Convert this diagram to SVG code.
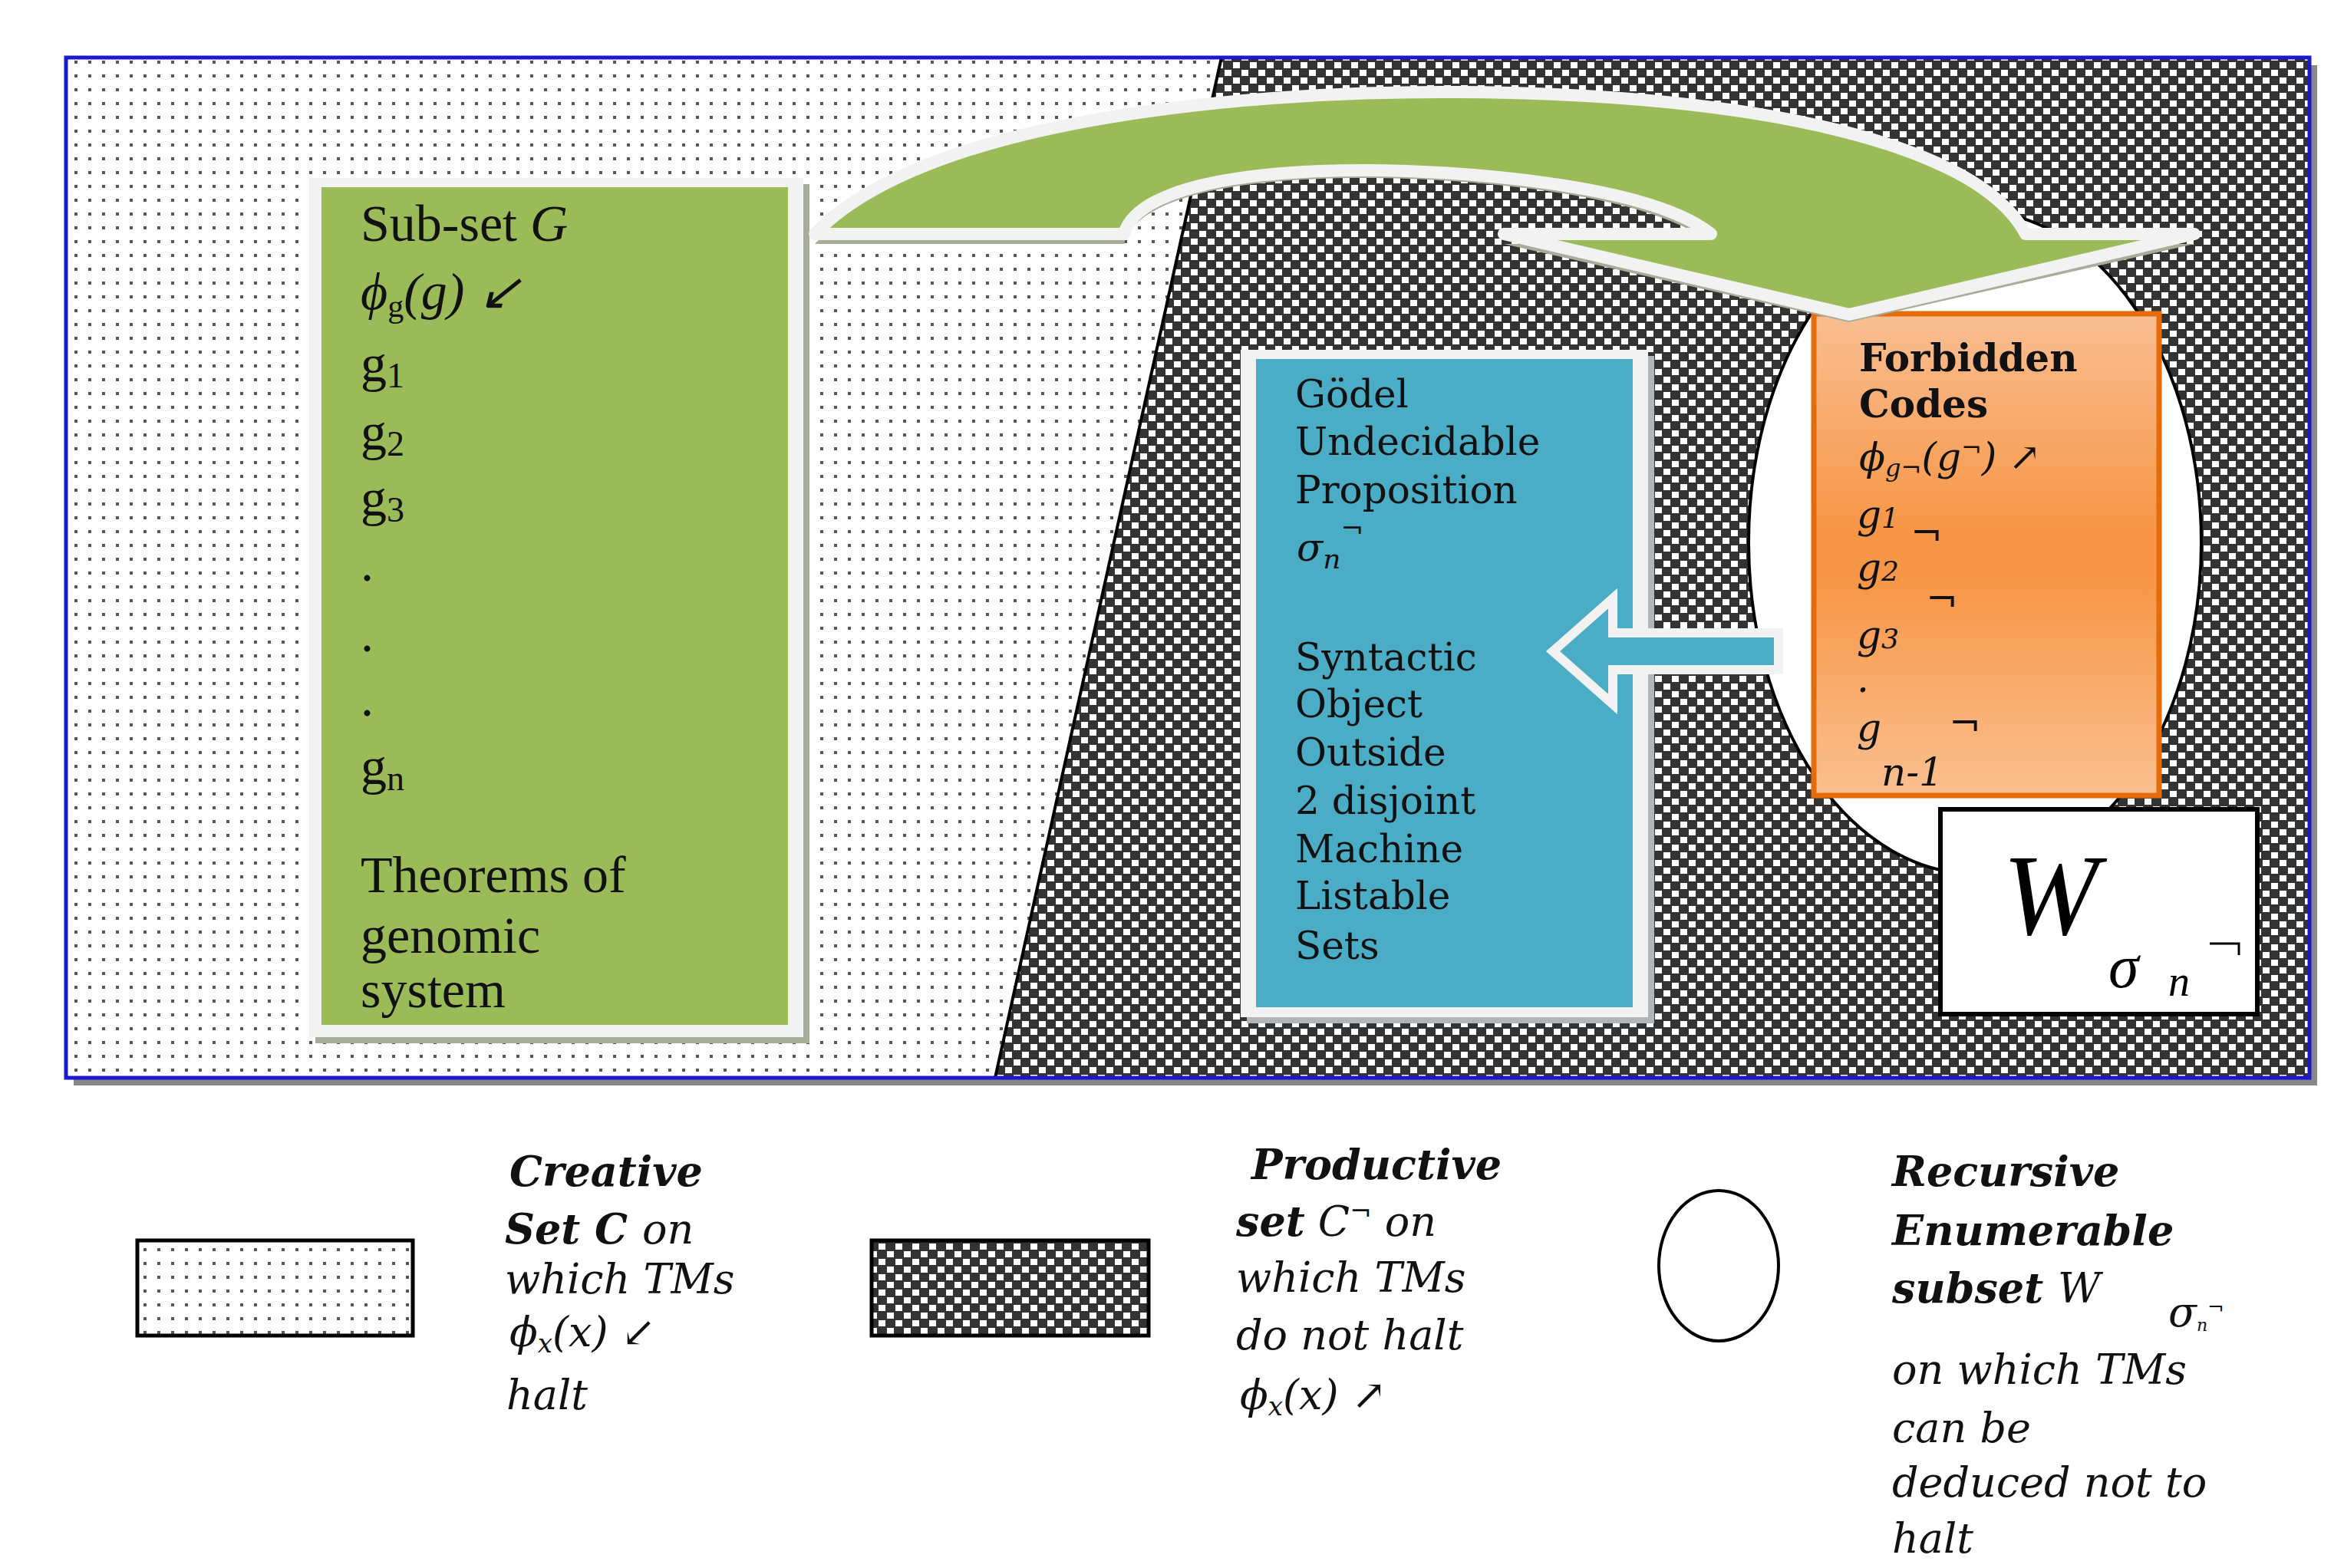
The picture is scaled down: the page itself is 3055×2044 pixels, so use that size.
<svg xmlns="http://www.w3.org/2000/svg" width="3055" height="2044" viewBox="0 0 3055 2044">
<defs>
<pattern id="dots" width="18" height="18" patternUnits="userSpaceOnUse"><rect width="18" height="18" fill="#fff"/><rect x="7" y="7" width="4" height="4" fill="#555"/></pattern>
<pattern id="chk" width="22" height="20" patternUnits="userSpaceOnUse"><rect width="22" height="20" fill="#333"/><rect x="1" y="1" width="9" height="8" fill="#fff"/><rect x="12" y="11" width="9" height="8" fill="#fff"/></pattern>
<linearGradient id="og" x1="0" y1="0" x2="0" y2="1"><stop offset="0" stop-color="#F9BE92"/><stop offset="0.45" stop-color="#F79646"/><stop offset="0.55" stop-color="#F79646"/><stop offset="1" stop-color="#FAC090"/></linearGradient>
<style>
.gt{font-family:"Liberation Serif",serif;font-size:68px;fill:#111}
.bt{font-family:"DejaVu Serif",serif;font-size:50px;fill:#111}
.ot{font-family:"DejaVu Serif",serif;font-size:50px;fill:#111;font-style:italic}
.lg{font-family:"DejaVu Serif",serif;font-size:54px;fill:#111;font-style:italic}
.b{font-weight:bold}
</style>
</defs>
<g id="background">
<rect x="96" y="85" width="2924" height="1330" fill="#888"/>
<rect x="86" y="75" width="2924" height="1330" fill="url(#dots)"/>
<polygon points="1592,75 3010,75 3010,1405 1297,1405" fill="url(#chk)"/>
<line x1="1592" y1="75" x2="1297" y2="1405" stroke="#000" stroke-width="4"/>
<rect x="86" y="75" width="2924" height="1330" fill="none" stroke="#1a1acc" stroke-width="5"/>
</g>
<g id="ellipse"><ellipse cx="2574" cy="707" rx="295" ry="432" fill="#fff" stroke="#000" stroke-width="4"/></g>
<g id="green-box">
<rect x="411" y="240" width="644" height="1120" fill="#a6ad98"/>
<rect x="403" y="232" width="644" height="1120" fill="#f2f2f2"/>
<rect x="419" y="244" width="608" height="1092" fill="#9BBB59"/>
<text class="gt" x="470" y="314">Sub-set <tspan font-style="italic">G</tspan></text>
<text class="gt" x="470" y="403" font-style="italic">ϕ<tspan font-size="42" dy="10" font-style="normal">g</tspan><tspan dy="-10">(g)</tspan>  ↙</text>
<text class="gt" x="470" y="497">g<tspan font-size="46" dy="8">1</tspan></text>
<text class="gt" x="470" y="586">g<tspan font-size="46" dy="8">2</tspan></text>
<text class="gt" x="470" y="672">g<tspan font-size="46" dy="8">3</tspan></text>
<text class="gt" x="470" y="757">.</text>
<text class="gt" x="470" y="849">.</text>
<text class="gt" x="470" y="933">.</text>
<text class="gt" x="470" y="1022">g<tspan font-size="46" dy="8">n</tspan></text>
<text class="gt" x="470" y="1163">Theorems of</text>
<text class="gt" x="470" y="1242">genomic</text>
<text class="gt" x="470" y="1313">system</text>
</g>
<g id="blue-box">
<rect x="1625" y="464" width="531" height="870" fill="#b0b5b8"/>
<rect x="1617" y="456" width="531" height="870" fill="#f2f2f2"/>
<rect x="1637" y="468" width="491" height="845" fill="#4BACC6"/>
<text class="bt" x="1688" y="531">Gödel</text>
<text class="bt" x="1688" y="593">Undecidable</text>
<text class="bt" x="1688" y="656">Proposition</text>
<text class="bt" x="1690" y="731" font-style="italic">σ<tspan font-size="36" dy="10">n</tspan><tspan font-size="36" dy="-40">¬</tspan></text>
<text class="bt" x="1688" y="874">Syntactic</text>
<text class="bt" x="1688" y="935">Object</text>
<text class="bt" x="1688" y="998">Outside</text>
<text class="bt" x="1688" y="1061">2 disjoint</text>
<text class="bt" x="1688" y="1124">Machine</text>
<text class="bt" x="1688" y="1185">Listable</text>
<text class="bt" x="1688" y="1250">Sets</text>
</g>
<g id="orange-box">
<rect x="2364" y="409" width="450" height="628" fill="url(#og)" stroke="#E46C0A" stroke-width="7"/>
<text class="bt b" x="2423" y="484">Forbidden</text>
<text class="bt b" x="2423" y="544">Codes</text>
<text class="ot" x="2423" y="613">ϕ<tspan font-size="32" dy="8">g¬</tspan><tspan dy="-8">(g</tspan><tspan font-size="32" dy="-18">¬</tspan><tspan dy="18">)  ↗</tspan></text>
<text class="ot" x="2420" y="688">g<tspan font-size="36">1</tspan></text>
<text class="ot" x="2490" y="712" font-size="32">¬</text>
<text class="ot" x="2420" y="757">g<tspan font-size="36">2</tspan></text>
<text class="ot" x="2510" y="798" font-size="32">¬</text>
<text class="ot" x="2420" y="845">g<tspan font-size="36">3</tspan></text>
<text class="ot" x="2420" y="902">.</text>
<text class="ot" x="2420" y="966" font-size="40">g</text>
<text class="ot" x="2540" y="960" font-size="32">¬</text>
<text class="ot" x="2452" y="1024" font-size="40">n-1</text>
</g>
<g id="w-box">
<rect x="2529" y="1055" width="413" height="267" fill="#fff" stroke="#000" stroke-width="6"/>
<text x="2610" y="1218" font-family="Liberation Serif,serif" font-style="italic" font-size="150" fill="#000">W</text>
<text x="2748" y="1287" font-family="Liberation Serif,serif" font-style="italic" font-size="80" fill="#000">σ</text>
<text x="2826" y="1298" font-family="Liberation Serif,serif" font-style="italic" font-size="56" fill="#000">n</text>
<path d="M2880,1230 L2918,1230 L2918,1245" fill="none" stroke="#000" stroke-width="3"/>
</g>
<g id="connectors">
<path d="M1062,318 C1200,170 1600,128 1900,130 C2300,132 2580,200 2640,318 L2860,318 L2410,420 L1960,318 L2230,318 C2150,250 1900,232 1780,232 C1600,232 1480,260 1465,318 Z" fill="#a6ad98"/>
<path d="M1062,305 C1200,160 1600,118 1900,120 C2300,122 2580,190 2640,305 L2860,305 L2410,410 L1960,305 L2230,305 C2150,240 1900,222 1780,222 C1600,222 1480,250 1465,305 Z" fill="#9BBB59" stroke="#f2f2f2" stroke-width="16" stroke-linejoin="round"/>
<path d="M2318,825 L2102,825 L2102,780 L2024,849 L2102,918 L2102,873 L2318,873 Z" fill="#4BACC6" stroke="#f2f2f2" stroke-width="12"/>
</g>
<g id="legend">
<rect x="179" y="1617" width="359" height="124" fill="url(#dots)" stroke="#000" stroke-width="5"/>
<rect x="1136" y="1617" width="361" height="124" fill="url(#chk)" stroke="#000" stroke-width="5"/>
<ellipse cx="2240" cy="1650" rx="78" ry="98" fill="#fff" stroke="#000" stroke-width="4"/>
<text class="lg b" x="664" y="1546">Creative</text>
<text class="lg b" x="658" y="1621">Set C <tspan font-weight="normal">on</tspan></text>
<text class="lg" x="658" y="1686" font-size="48">which TMs</text>
<text class="lg" x="664" y="1755">ϕ<tspan font-size="34" dy="8">x</tspan><tspan dy="-8">(x)  ↙</tspan></text>
<text class="lg" x="660" y="1837">halt</text>
<text class="lg b" x="1631" y="1537">Productive</text>
<text class="lg" x="1611" y="1611"><tspan font-weight="bold">set</tspan> C<tspan font-size="34" dy="-20">¬</tspan><tspan dy="20"> on</tspan></text>
<text class="lg" x="1611" y="1684">which TMs</text>
<text class="lg" x="1611" y="1759">do not halt</text>
<text class="lg" x="1616" y="1837">ϕ<tspan font-size="34" dy="8">x</tspan><tspan dy="-8">(x) ↗</tspan></text>
<text class="lg b" x="2466" y="1546">Recursive</text>
<text class="lg b" x="2466" y="1623">Enumerable</text>
<text class="lg b" x="2466" y="1698">subset  <tspan font-weight="normal">W</tspan></text>
<text class="lg" x="2826" y="1729" font-size="30">σ<tspan font-size="22" dy="6">n</tspan><tspan font-size="26" dy="-22">¬</tspan></text>
<text class="lg" x="2466" y="1804">on which TMs</text>
<text class="lg" x="2466" y="1880">can be</text>
<text class="lg" x="2466" y="1951">deduced not to</text>
<text class="lg" x="2466" y="2024">halt</text>
</g>
</svg>
